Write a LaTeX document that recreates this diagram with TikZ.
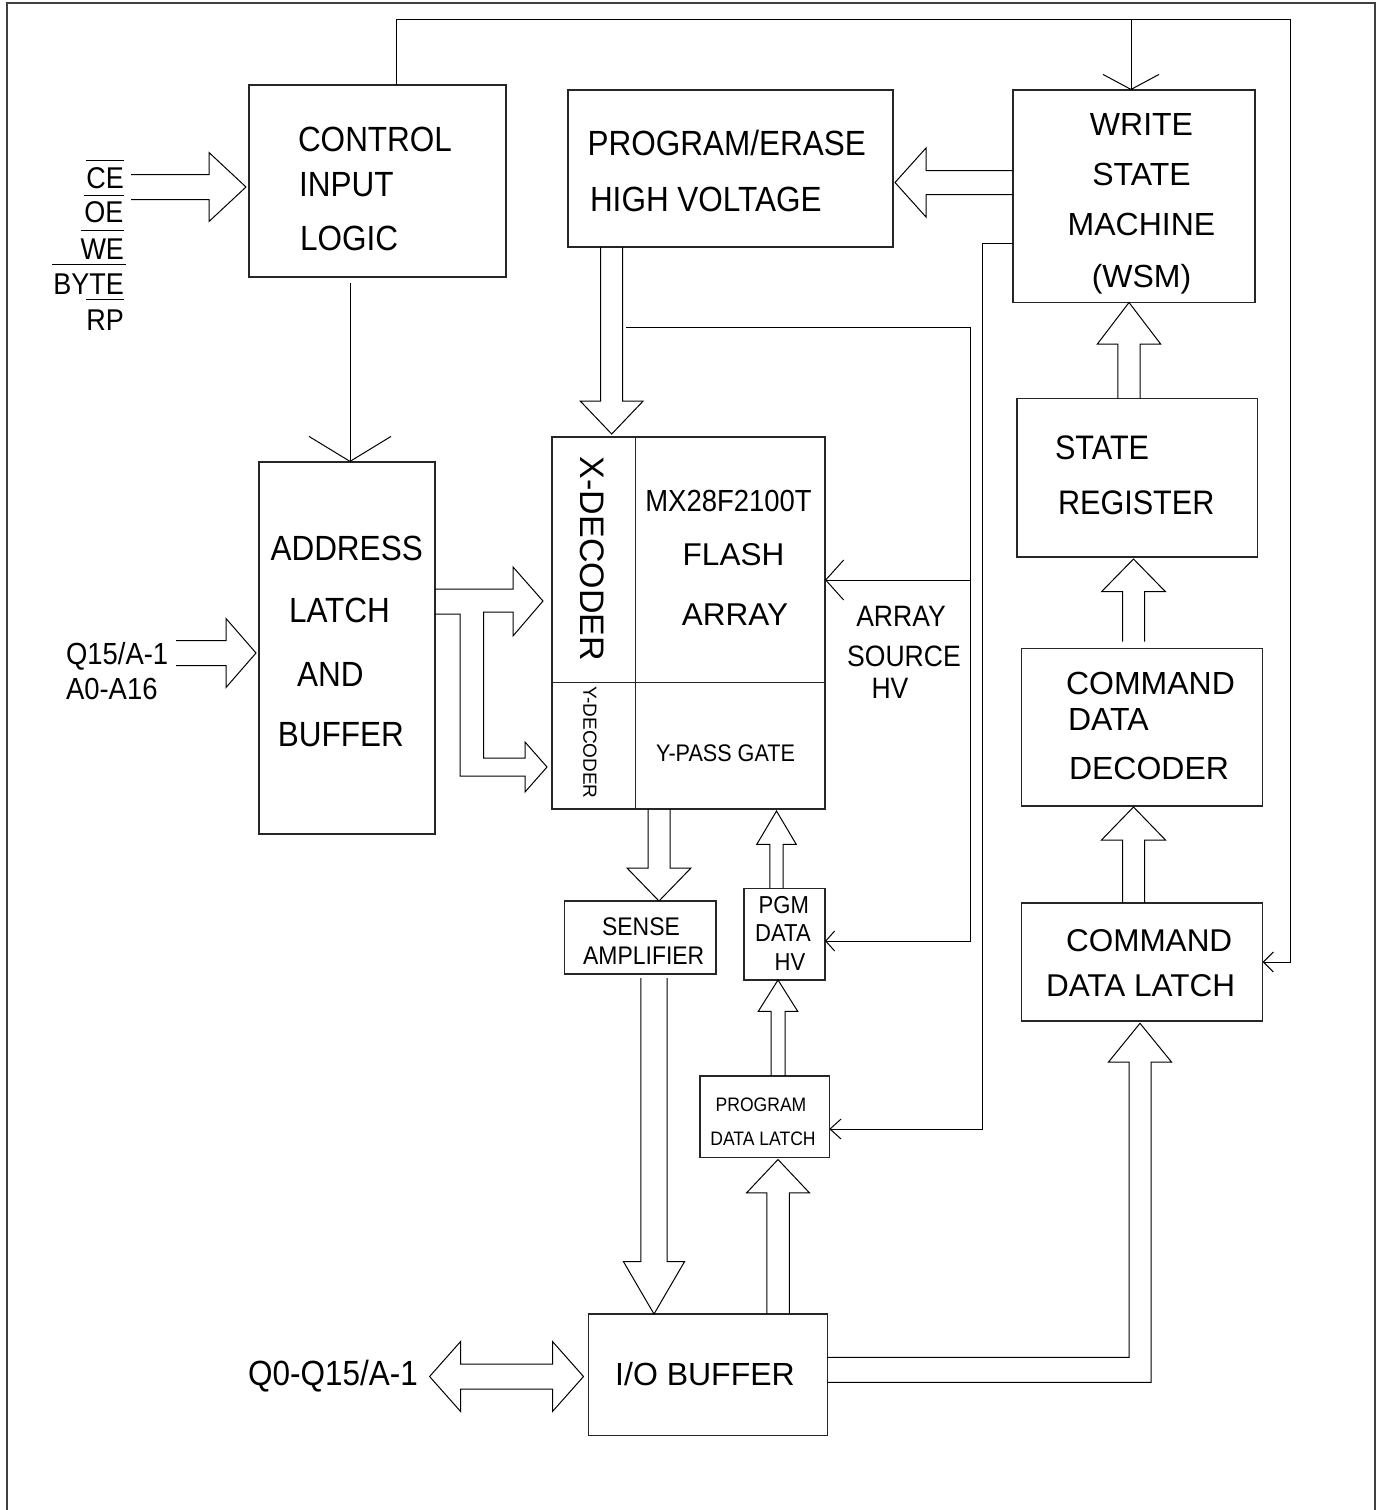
\documentclass[tikz,border=0pt]{standalone}
\usepackage{fontspec}
\setmainfont{Liberation Sans}
\newfontfamily\narrowsans[FakeStretch=0.9]{Liberation Sans}
\usetikzlibrary{calc,arrows.meta}
\tikzset{
  box/.style={draw=black!85, line width=1.3pt, inner sep=0pt, outer sep=0pt},
  wire/.style={draw=black, line width=1pt},
  fat/.style={draw=black, line width=1pt, line join=miter},
  frame/.style={draw=black!75, line width=2pt},
  t/.style={font=\fontsize{#1}{#1}\selectfont, inner sep=0pt, outer sep=0pt},
  tn/.style={font=\narrowsans\fontsize{#1}{#1}\selectfont, inner sep=0pt, outer sep=0pt},
  barb/.style 2 args={-{Straight Barb[length=#1pt,width=#2pt]}}
}
% fat hollow arrow: start, tip, shaft half width, head half width, head length
\newcommand\fatarrow[5]{%
  \coordinate (faS) at #1;
  \coordinate (faT) at #2;
  \coordinate (faH) at ($(faT)!#5pt!(faS)$);
  \draw[fat] ($(faS)!#3pt!90:(faT)$) -- ($(faH)!#3pt!90:(faT)$) -- ($(faH)!#4pt!90:(faT)$)
    -- (faT) -- ($(faH)!#4pt!-90:(faT)$) -- ($(faH)!#3pt!-90:(faT)$) -- ($(faS)!#3pt!-90:(faT)$);
}
% double headed fat arrow: tip A, tip B, shaft hw, head hw, head length
\newcommand\fatdouble[5]{%
  \coordinate (fdA) at #1;
  \coordinate (fdB) at #2;
  \coordinate (fdH) at ($(fdA)!#5pt!(fdB)$);
  \coordinate (fdK) at ($(fdB)!#5pt!(fdA)$);
  \draw[fat] (fdA) -- ($(fdH)!#4pt!90:(fdB)$) -- ($(fdH)!#3pt!90:(fdB)$) -- ($(fdK)!#3pt!-90:(fdA)$)
    -- ($(fdK)!#4pt!-90:(fdA)$) -- (fdB) -- ($(fdK)!#4pt!90:(fdA)$) -- ($(fdK)!#3pt!90:(fdA)$)
    -- ($(fdH)!#3pt!-90:(fdB)$) -- ($(fdH)!#4pt!-90:(fdB)$) -- cycle;
}
\begin{document}
\begin{tikzpicture}[x=1pt,y=-1pt]
\useasboundingbox (0,0) rectangle (1382,1510);
% frame
\draw[frame] (7,1512) -- (7,3) -- (1375,3) -- (1375,1512);

% boxes
\node[box, minimum width=257pt, minimum height=192pt] (cil) at (377.5,181) {};
\node[box, minimum width=325pt, minimum height=157pt] (pe) at (730.5,168.5) {};
\node[box, minimum width=242pt, minimum height=212.5pt] (wsm) at (1134,196.25) {};
\node[box, minimum width=176pt, minimum height=372pt] (alb) at (347,648) {};
\node[box, minimum width=273pt, minimum height=372pt] (fa) at (688.5,623) {};
\node[box, minimum width=240.5pt, minimum height=158.5pt] (sr) at (1137.25,477.75) {};
\node[box, minimum width=241pt, minimum height=157.3pt] (cdd) at (1142.2,727.35) {};
\node[box, minimum width=241pt, minimum height=118pt] (cdl) at (1142.2,962) {};
\node[box, minimum width=151.7pt, minimum height=73pt] (sa) at (640.15,937.5) {};
\node[box, minimum width=81pt, minimum height=91.7pt] (pgm) at (784.5,934.15) {};
\node[box, minimum width=129.3pt, minimum height=81.3pt] (pdl) at (764.65,1116.65) {};
\node[box, minimum width=238.8pt, minimum height=121.7pt] (io) at (708,1374.85) {};
% flash array dividers
\draw[box] (fa.north -| 635.3,0) -- (fa.south -| 635.3,0);
\draw[box] (fa.west |- 0,682.3) -- (fa.east |- 0,682.3);

% texts
\node[tn=35, anchor=base west] (cil1) at (298,151.7) {CONTROL};
\node[tn=35, anchor=base west] (cil2) at (299,196.7) {INPUT};
\node[tn=35, anchor=base west] (cil3) at (300,250.7) {LOGIC};
\node[tn=35, anchor=base west] (pe1) at (587.5,155) {PROGRAM/ERASE};
\node[tn=35, anchor=base west] (pe2) at (590,211.7) {HIGH VOLTAGE};
\node[t=32, anchor=base] (wsm1) at (1141.5,135) {WRITE};
\node[t=32, anchor=base] (wsm2) at (1141.5,185) {STATE};
\node[t=32, anchor=base] (wsm3) at (1141.5,235) {MACHINE};
\node[t=32, anchor=base] (wsm4) at (1141.5,287) {(WSM)};
\node[tn=35, anchor=base west] (alb1) at (270.5,560) {ADDRESS};
\node[tn=35, anchor=base west] (alb2) at (289,622.7) {LATCH};
\node[tn=35, anchor=base west] (alb3) at (297,686.7) {AND};
\node[tn=35, anchor=base west] (alb4) at (277.8,746.7) {BUFFER};
\node[tn=30, anchor=base east] (ce) at (124,188.3) {CE};
\node[tn=30, anchor=base east] (oe) at (123.5,222.7) {OE};
\node[tn=30, anchor=base east] (we) at (124,259.3) {WE};
\node[tn=30, anchor=base east] (byte) at (124,294) {BYTE};
\node[tn=30, anchor=base east] (rp) at (124,330) {RP};
\draw[wire] (ce.west |- 0,160) -- (ce.east |- 0,160);
\draw[wire] (oe.west |- 0,195) -- (oe.east |- 0,195);
\draw[wire] (we.west |- 0,230) -- (we.east |- 0,230);
\draw[wire] ([xshift=-1pt]byte.west |- 0,264) -- ([xshift=2pt]byte.east |- 0,264);
\draw[wire] (rp.west |- 0,299.3) -- (rp.east |- 0,299.3);
\node[tn=30.5, anchor=base west] (q15) at (66,664) {Q15/A-1};
\node[tn=30.5, anchor=base west] (a016) at (66,699) {A0-A16};
\node[t=34, rotate=-90] (xdec) at (592,559) {X-DECODER};
\node[t=19, rotate=-90] (ydec) at (590,742.5) {Y-DECODER};
\node[tn=30.5, anchor=base] (fa1) at (728.5,511.7) {MX28F2100T};
\node[t=31.5, anchor=base] (fa2) at (733.5,565) {FLASH};
\node[t=31.5, anchor=base] (fa3) at (735,625) {ARRAY};
\node[tn=24, anchor=base] (ypg) at (725.5,761.7) {Y-PASS GATE};
\node[tn=29.5, anchor=base] (as1) at (901,626) {ARRAY};
\node[tn=29.5, anchor=base] (as2) at (904,666) {SOURCE};
\node[tn=29.5, anchor=base] (as3) at (890,698.3) {HV};
\node[tn=25.5, anchor=base] (sa1) at (641,935) {SENSE};
\node[tn=25.5, anchor=base] (sa2) at (643.7,964) {AMPLIFIER};
\node[tn=24.5, anchor=base] (pgm1) at (783.8,913.3) {PGM};
\node[tn=24.5, anchor=base] (pgm2) at (783,941.7) {DATA};
\node[tn=24.5, anchor=base] (pgm3) at (790,970) {HV};
\node[tn=19.5, anchor=base] (pdl1) at (761,1111.7) {PROGRAM};
\node[tn=19.5, anchor=base] (pdl2) at (763,1145) {DATA LATCH};
\node[t=32, anchor=base] (io1) at (705,1385) {I/O BUFFER};
\node[tn=35, anchor=base east] (q0) at (418,1385) {Q0-Q15/A-1};
\node[tn=34, anchor=base west] (sr1) at (1055,459) {STATE};
\node[tn=34, anchor=base west] (sr2) at (1058,514) {REGISTER};
\node[t=32, anchor=base west] (cdd1) at (1066,694.6) {COMMAND};
\node[t=32, anchor=base west] (cdd2) at (1068,730) {DATA};
\node[t=32, anchor=base west] (cdd3) at (1069,779) {DECODER};
\node[t=31.5, anchor=base west] (cdl1) at (1066,951) {COMMAND};
\node[t=31.5, anchor=base west] (cdl2) at (1046,996) {DATA LATCH};

% thin wires
\coordinate (topL) at (396,19);
\coordinate (topR) at (1290,19);
\draw[wire, barb={10}{20}] (cil.north -| topL) -- (topL) -- (topR) |- (cdl.east);
\draw[wire, barb={15}{56}] (1131,19) -- (1131,0 |- wsm.north);
\draw[wire, barb={25}{82}] (350,283) -- (350,0 |- alb.north);
\coordinate (ashv) at (970.5,580);
\draw[wire, barb={18}{40}] (626,327) -| (ashv) -- (fa.east |- ashv);
\draw[wire, barb={9}{20}] (ashv) |- (pgm.east |- 0,941);
\coordinate (wsmL) at (982,243);
\draw[wire, barb={11}{20}] (wsm.west |- wsmL) -- (wsmL) |- (pdl.east |- 0,1129);

% fat arrows
\fatarrow{(131,187)}{(246,187)}{12.5}{34.5}{37}
\fatarrow{(176,653)}{(256,653)}{12.5}{34.5}{30}
\fatarrow{(wsm.west |- 0,182.5)}{(895,182.5)}{12}{34.5}{31}
\fatarrow{(611.7,0 |- pe.south)}{(611.7,434)}{11}{31.5}{33}
\fatarrow{(659,0 |- fa.south)}{(659,0 |- sa.north)}{11}{32}{33}
\fatarrow{(776.5,0 |- pgm.north)}{(776.5,811)}{6.7}{19.7}{33.3}
\fatarrow{(778,0 |- pdl.north)}{(778,0 |- pgm.south)}{7}{19.7}{31.3}
\fatarrow{(778,0 |- io.north)}{(778,1159.5)}{11.25}{31.5}{33.4}
\fatarrow{(654,978)}{(654,0 |- io.north)}{13.2}{30.5}{52.3}
\fatarrow{(1129,0 |- sr.north)}{(1129,0 |- wsm.south)}{11.2}{31.7}{41.6}
\fatarrow{(1133.5,641.7)}{(1133.5,559)}{11}{32}{32.7}
\fatarrow{(1133.5,0 |- cdl.north)}{(1133.5,807)}{11}{32}{33}
\fatdouble{(429.6,1376.5)}{(583.5,1376.5)}{12.5}{35}{31}

% address bus split to X and Y decoders
\draw[fat] (alb.east |- 0,589) -- (513,589) -- (513,567) -- (543,601) -- (513,636) -- (513,612)
  -- (483.5,612) -- (483.5,758) -- (525,758) -- (525,742) -- (547,767) -- (525,792) -- (525,776)
  -- (460,776) -- (460,614) -- (alb.east |- 0,614);
% I/O buffer to command data latch
\draw[fat] (io.east |- 0,1357.3) -- (1129,1357.3) -- (1129,1062) -- (1108.5,1062) -- (1140,1023.3)
  -- (1171.5,1062) -- (1151,1062) -- (1151,1382.3) -- (io.east |- 0,1382.3);
\end{tikzpicture}
\end{document}
